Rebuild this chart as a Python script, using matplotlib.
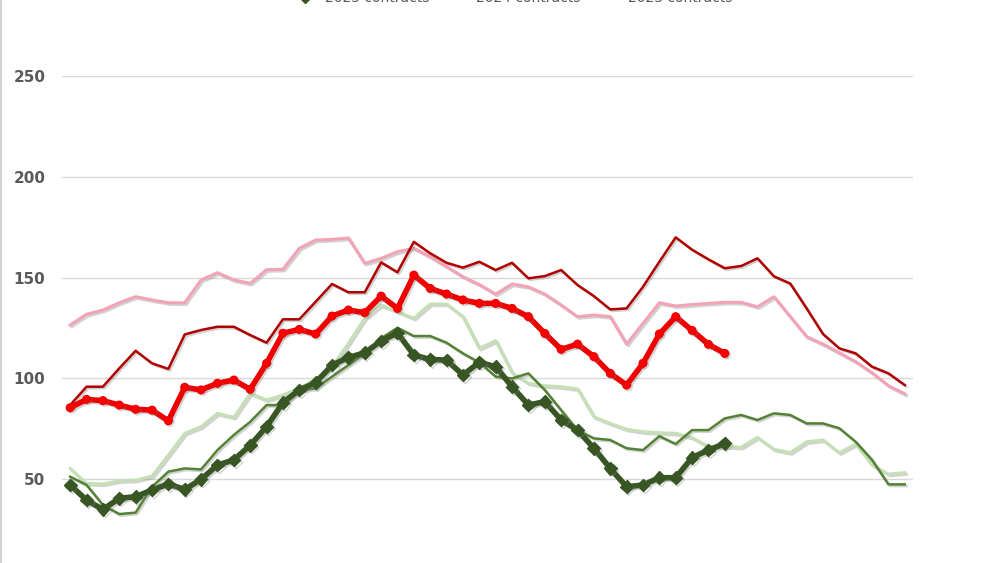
import matplotlib
matplotlib.use("Agg")
import matplotlib.pyplot as plt
import matplotlib.patheffects as pe
from matplotlib.lines import Line2D
import numpy as np

weeks = list(range(1, 53))

red_2025 = [85.5, 89.6, 89.0, 86.8, 84.7, 84.3, 79.0, 95.6, 94.3, 97.6, 99.2, 94.6,
            107.5, 122.4, 124.3, 122.0, 130.9, 133.9, 132.6, 140.8, 134.7, 151.2, 144.6,
            141.8, 138.9, 137.2, 137.2, 134.7, 130.6, 122.3, 114.4, 117.0, 110.8, 102.5,
            96.7, 107.5, 122.0, 130.6, 123.8, 116.9, 112.4]
red_2024 = [86.8, 95.9, 95.9, 105.0, 113.7, 107.5, 104.7, 121.8, 124.0, 125.6, 125.6,
            121.5, 117.7, 129.3, 129.3, 138.0, 146.8, 142.7, 142.7, 157.5, 152.6, 167.7,
            162.0, 157.3, 154.9, 157.8, 153.7, 157.3, 149.6, 150.7, 153.7, 146.3, 140.8,
            134.2, 134.7, 145.4, 157.8, 169.9, 163.8, 159.0, 154.6, 155.7, 159.5, 150.6,
            147.0, 134.7, 122.0, 114.9, 112.4, 105.8, 102.5, 96.7]
red_2023 = [126.5, 131.8, 133.9, 137.5, 140.5, 138.9, 137.5, 137.5, 148.8, 152.4, 148.8,
            147.1, 153.9, 154.1, 164.5, 168.6, 168.9, 169.6, 157.0, 159.5, 162.8, 164.5,
            160.3, 155.4, 150.4, 146.5, 141.8, 146.8, 145.4, 141.8, 136.4, 130.6, 131.4,
            130.6, 117.0, 127.3, 137.5, 135.9, 136.6, 137.2, 137.7, 137.7, 135.5, 140.5,
            130.6, 120.7, 117.0, 112.7, 108.3, 102.8, 96.4, 92.3]
green_2025 = [47.2, 39.7, 35.1, 40.6, 41.4, 44.7, 47.7, 45.0, 50.0, 57.1, 59.6, 66.9,
              76.1, 88.0, 94.3, 97.9, 106.6, 110.4, 112.7, 118.6, 122.5, 111.6, 109.4,
              109.1, 101.7, 108.0, 105.8, 95.9, 86.8, 88.5, 79.4, 74.4, 65.4, 55.4, 46.3,
              47.2, 50.8, 50.8, 60.8, 64.5, 67.8]
green_2024 = [51.3, 47.2, 37.3, 32.8, 33.5, 46.3, 53.8, 55.4, 54.9, 64.5, 72.0, 78.5,
              86.8, 86.8, 93.9, 95.1, 100.9, 106.6, 112.4, 119.9, 125.1, 121.0, 121.0,
              117.7, 112.4, 107.9, 100.9, 100.0, 102.5, 94.3, 84.3, 74.4, 70.3, 69.5,
              65.4, 64.5, 71.4, 67.5, 74.4, 74.4, 80.2, 81.9, 79.4, 82.7, 81.9, 77.7,
              77.7, 75.3, 68.6, 59.6, 47.5, 47.5]
green_2023 = [55.4, 48.0, 47.7, 49.3, 49.6, 51.6, 62.0, 72.8, 76.1, 82.7, 80.7, 92.6,
              89.3, 91.8, 95.1, 99.6, 105.8, 117.4, 129.8, 136.4, 133.1, 129.8, 136.9,
              136.9, 130.6, 114.9, 118.7, 102.8, 97.6, 96.4, 95.9, 94.8, 81.0, 77.7, 74.8,
              73.6, 73.1, 72.8, 70.7, 66.2, 66.2, 65.9, 70.8, 64.9, 63.2, 68.6, 69.5,
              63.2, 67.5, 57.1, 52.6, 53.3]

legend_labels = ["2025 contracts", "2024 contracts", "2023 contracts"]
y_ticks = [50, 100, 150, 200, 250]

fig = plt.figure(figsize=(10, 5.63), dpi=100)
ax = fig.add_axes([0.062, -0.0306, 0.851, 0.8961])

shadow = [pe.SimpleLineShadow(offset=(1.2, -1.2), shadow_color="#808080", alpha=0.35),
          pe.Normal()]

def x_of(vals):
    return np.arange(len(vals))

ax.plot(x_of(red_2023), red_2023, color="#F2A3B5", lw=2.2, path_effects=shadow, zorder=3)
ax.plot(x_of(red_2024), red_2024, color="#B00000", lw=1.8, path_effects=shadow, zorder=4)
ax.plot(x_of(green_2023), green_2023, color="#C5E0B4", lw=2.2, path_effects=shadow, zorder=3)
ax.plot(x_of(green_2024), green_2024, color="#548235", lw=1.8, path_effects=shadow, zorder=4)
ax.plot(x_of(red_2025), red_2025, color="#EE0000", lw=4.0, marker="o", ms=5.5,
        mfc="#FF0000", mec="#EE0000", path_effects=shadow, zorder=6)
ax.plot(x_of(green_2025), green_2025, color="#375623", lw=4.0, marker="D", ms=6.5,
        mfc="#375623", mec="#375623", path_effects=shadow, zorder=6)

ax.set_xlim(-0.5, 51.5)
ax.set_ylim(0, 250)
ax.set_yticks(y_ticks)
ax.set_xticks([])
ax.grid(axis="y", color="#D9D9D9", lw=1.0)
ax.set_axisbelow(True)
for s in ax.spines.values():
    s.set_visible(False)
ax.tick_params(axis="y", length=0, pad=12, labelsize=11, labelcolor="#595959")
for t in ax.get_yticklabels():
    t.set_fontweight("bold")

# legend at the top edge, mostly cut off as in the reference
handles = [Line2D([], [], color="#375623", lw=4, marker="D", ms=6),
           Line2D([], [], color="#548235", lw=1.8),
           Line2D([], [], color="#C5E0B4", lw=2.2)]
leg = fig.legend(handles, legend_labels, loc="center", bbox_to_anchor=(0.512, 1.0036),
                 ncol=3, frameon=False, fontsize=10, labelcolor="#595959",
                 columnspacing=1.0, handlelength=2.0, handletextpad=0.4)

# left border line
fig.add_artist(Line2D([0.001, 0.001], [0, 1], transform=fig.transFigure,
                      color="#D0D0D0", lw=1.5))

fig.savefig("out.png", dpi=100)
